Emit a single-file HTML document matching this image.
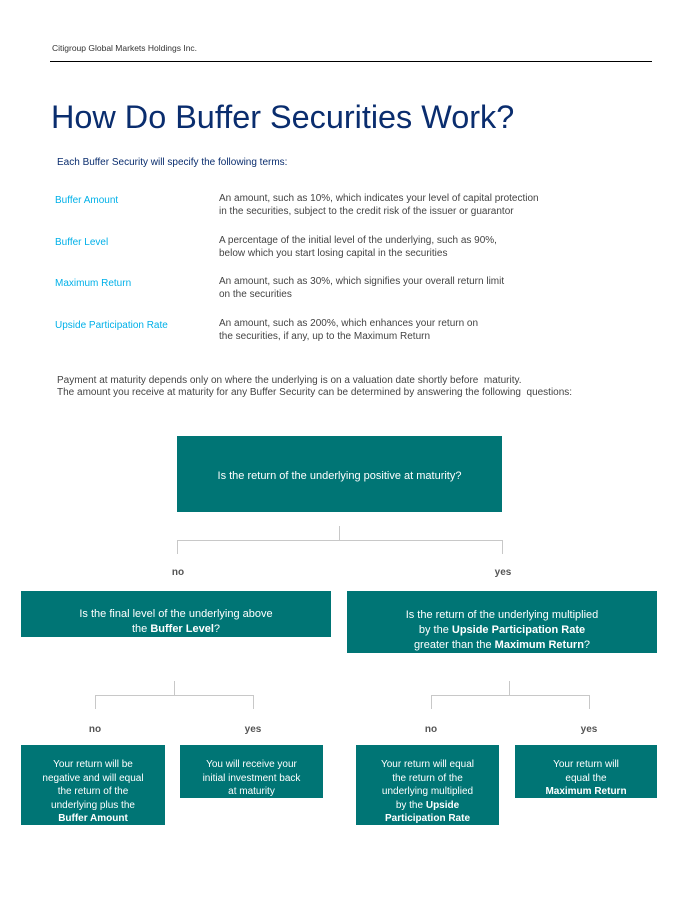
<!DOCTYPE html>
<html><head><meta charset="utf-8"><style>
*{margin:0;padding:0;box-sizing:border-box}
body{width:677px;height:901px;background:#fff;position:relative;font-family:"Liberation Sans",Arial,sans-serif;overflow:hidden}
.a{position:absolute;white-space:nowrap}
.s{font-size:10px;color:#444;line-height:12.5px}
.c{font-size:10px;color:#00b0e8;line-height:12.5px}
.b{position:absolute;background:#007575;color:#fff;font-size:11px;text-align:center;display:flex;align-items:flex-start;justify-content:center;line-height:15px;white-space:nowrap}
.b2{line-height:13.5px;font-size:10px;padding-top:13px}
.l{position:absolute;background:#c8c8c8}
.y{position:absolute;font-size:10px;font-weight:bold;color:#555;transform:translateX(-50%)}
</style></head><body>
<div class="a" style="left:52px;top:43px;font-size:8.5px;color:#333">Citigroup Global Markets Holdings Inc.</div>
<div class="a" style="left:50px;top:61px;width:602px;height:1px;background:#000"></div>
<div class="a" style="left:51px;top:99px;font-size:32.4px;color:#0a2d6e">How Do Buffer Securities Work?</div>
<div class="a" style="left:57px;top:157px;font-size:10px;color:#0a2d6e">Each Buffer Security will specify the following terms:</div>
<div class="a c" style="left:55px;top:195px">Buffer Amount</div>
<div class="a s" style="left:219px;top:193px">An amount, such as 10%, which indicates your level of capital protection<br>in the securities, subject to the credit risk of the issuer or guarantor</div>
<div class="a c" style="left:55px;top:237px">Buffer Level</div>
<div class="a s" style="left:219px;top:235px">A percentage of the initial level of the underlying, such as 90%,<br>below which you start losing capital in the securities</div>
<div class="a c" style="left:55px;top:278px">Maximum Return</div>
<div class="a s" style="left:219px;top:276px">An amount, such as 30%, which signifies your overall return limit<br>on the securities</div>
<div class="a c" style="left:55px;top:320px">Upside Participation Rate</div>
<div class="a s" style="left:219px;top:318px">An amount, such as 200%, which enhances your return on<br>the securities, if any, up to the Maximum Return</div>
<div class="a s" style="left:57px;top:375px;line-height:12px">Payment at maturity depends only on where the underlying is on a valuation date shortly before&nbsp; maturity.<br>The amount you receive at maturity for any Buffer Security can be determined by answering the following&nbsp; questions:</div>

<div class="b" style="left:177px;top:436px;width:325px;height:76px;padding-top:33px"><div>Is the return of the underlying positive at maturity?</div></div>
<div class="l" style="left:339px;top:526px;width:1px;height:14px"></div>
<div class="l" style="left:177px;top:540px;width:326px;height:1px"></div>
<div class="l" style="left:177px;top:540px;width:1px;height:14px"></div>
<div class="l" style="left:502px;top:540px;width:1px;height:14px"></div>
<div class="y" style="left:178px;top:567px">no</div>
<div class="y" style="left:503px;top:567px">yes</div>

<div class="b" style="left:21px;top:591px;width:310px;height:46px;padding-top:16px"><div>Is the final level of the underlying above<br>the <b>Buffer Level</b>?</div></div>
<div class="b" style="left:347px;top:591px;width:310px;height:62px;padding-top:17px"><div>Is the return of the underlying multiplied<br>by the <b>Upside Participation Rate</b><br>greater than the <b>Maximum Return</b>?</div></div>

<div class="l" style="left:174px;top:681px;width:1px;height:14px"></div>
<div class="l" style="left:95px;top:695px;width:159px;height:1px"></div>
<div class="l" style="left:95px;top:695px;width:1px;height:14px"></div>
<div class="l" style="left:253px;top:695px;width:1px;height:14px"></div>
<div class="l" style="left:509px;top:681px;width:1px;height:14px"></div>
<div class="l" style="left:431px;top:695px;width:159px;height:1px"></div>
<div class="l" style="left:431px;top:695px;width:1px;height:14px"></div>
<div class="l" style="left:589px;top:695px;width:1px;height:14px"></div>
<div class="y" style="left:95px;top:724px">no</div>
<div class="y" style="left:253px;top:724px">yes</div>
<div class="y" style="left:431px;top:724px">no</div>
<div class="y" style="left:589px;top:724px">yes</div>

<div class="b b2" style="left:21px;top:745px;width:144px;height:80px"><div>Your return will be<br>negative and will equal<br>the return of the<br>underlying plus the<br><b>Buffer Amount</b></div></div>
<div class="b b2" style="left:180px;top:745px;width:143px;height:53px"><div>You will receive your<br>initial investment back<br>at maturity</div></div>
<div class="b b2" style="left:356px;top:745px;width:143px;height:80px"><div>Your return will equal<br>the return of the<br>underlying multiplied<br>by the <b>Upside</b><br><b>Participation Rate</b></div></div>
<div class="b b2" style="left:515px;top:745px;width:142px;height:53px"><div>Your return will<br>equal the<br><b>Maximum Return</b></div></div>
</body></html>
